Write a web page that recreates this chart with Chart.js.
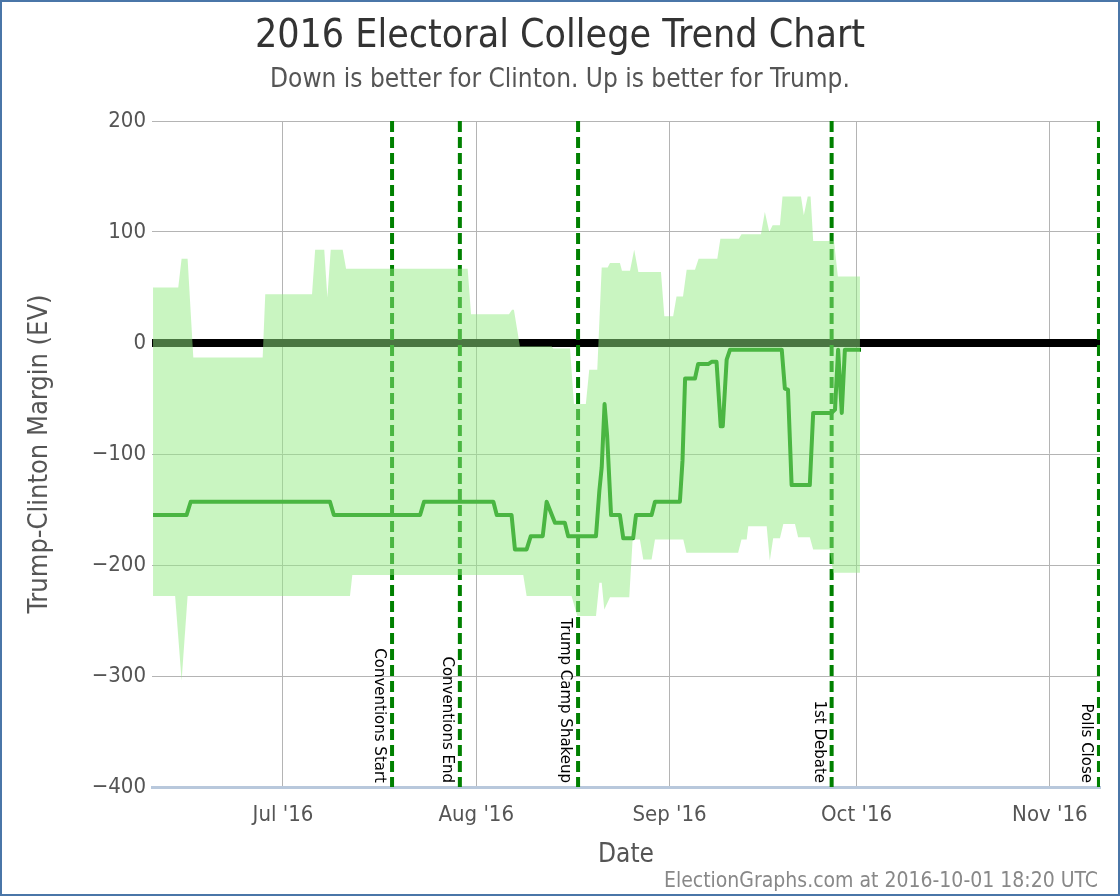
<!DOCTYPE html>
<html>
<head>
<meta charset="utf-8">
<title>2016 Electoral College Trend Chart</title>
<script src="https://cdn.jsdelivr.net/npm/chart.js@4.4.1/dist/chart.umd.min.js"></script>
<style>
  html, body { margin: 0; padding: 0; background: #fff; }
  canvas { display: block; }
</style>
</head>
<body>
<canvas id="trendChart" width="1120" height="896"></canvas>
<script>
// all dates are 2016, written 'MM-DDTHH' (UTC)
const upperDates = ['06-10T04', '06-14T05', '06-14T18', '06-15T17', '06-16T15', '06-27T18', '06-28T04', '07-05T16', '07-06T04', '07-07T15', '07-08T03', '07-08T16', '07-10T14', '07-11T03', '07-30T15', '07-31T04', '08-06T06', '08-06T18', '08-07T01', '08-08T00', '08-13T02', '08-13T08', '08-16T01', '08-16T16', '08-18T14', '08-19T03', '08-20T10', '08-21T03', '08-22T02', '08-22T11', '08-24T01', '08-24T09', '08-25T16', '08-26T08', '08-27T00', '08-30T15', '08-31T04', '09-01T14', '09-02T03', '09-03T04', '09-03T18', '09-05T02', '09-05T16', '09-08T16', '09-09T04', '09-12T03', '09-12T13', '09-15T16', '09-16T07', '09-17T00', '09-17T13', '09-18T17', '09-19T03', '09-22T02', '09-22T13', '09-23T04', '09-23T15', '09-24T01', '09-27T09', '09-28T00', '10-01T13'];
const upperValues = [50, 50, 76, 76, -13, -13, 44, 44, 84, 84, 41, 84, 84, 67, 67, 26, 26, 30, 30, -3, -3, -5, -5, -55, -55, -24, -24, 68, 68, 72, 72, 65, 65, 84, 64, 64, 24, 24, 42, 42, 66, 66, 76, 76, 94, 94, 98, 98, 118, 100, 106, 106, 132, 132, 115, 132, 132, 92, 92, 60, 60];

const lowerDates = ['06-10T04', '06-13T17', '06-14T18', '06-15T17', '07-11T18', '07-12T03', '08-08T13', '08-09T02', '08-16T07', '08-17T05', '08-20T05', '08-20T18', '08-21T03', '08-21T13', '08-22T11', '08-25T13', '08-26T02', '08-27T06', '08-27T19', '08-29T03', '08-29T16', '09-03T05', '09-03T17', '09-12T00', '09-12T13', '09-13T09', '09-13T15', '09-16T14', '09-17T02', '09-17T15', '09-18T17', '09-19T06', '09-21T03', '09-21T15', '09-23T12', '09-24T01', '09-26T17', '09-27T06', '10-01T13'];
const lowerValues = [-228, -228, -304, -228, -228, -209, -209, -228, -228, -246, -246, -216, -216, -240, -229, -229, -177, -177, -195, -195, -177, -177, -189, -189, -177, -177, -165, -165, -196, -176, -176, -163, -163, -175, -175, -186, -186, -207, -207];

const centerDates = ['06-10T04', '06-15T13', '06-16T05', '07-08T13', '07-09T04', '07-23T00', '07-23T15', '08-03T18', '08-04T07', '08-06T16', '08-07T05', '08-09T02', '08-09T18', '08-11T16', '08-12T07', '08-13T15', '08-15T05', '08-15T18', '08-20T05', '08-20T18', '08-21T03', '08-21T14', '08-22T00', '08-22T15', '08-24T01', '08-24T14', '08-26T04', '08-26T15', '08-29T03', '08-29T16', '09-02T16', '09-03T02', '09-03T12', '09-05T02', '09-05T14', '09-07T05', '09-07T18', '09-08T13', '09-09T05', '09-09T13', '09-10T04', '09-10T17', '09-19T00', '09-19T12', '09-20T00', '09-20T14', '09-23T12', '09-24T01', '09-27T00', '09-27T13', '09-28T01', '09-28T15', '09-29T03', '10-01T17'];
const centerValues = [-155, -155, -143, -143, -155, -155, -143, -143, -155, -155, -186, -186, -174, -174, -143, -162, -162, -174, -174, -133, -112, -55, -84, -155, -155, -176, -176, -155, -155, -143, -143, -106, -32, -32, -19, -19, -17, -17, -75, -75, -15, -6, -6, -41, -42, -128, -128, -63, -63, -60, -6, -63, -6, -6];

const eventNames = ['Conventions Start', 'Conventions End', 'Trump Camp Shakeup', '1st Debate', 'Polls Close'];
const eventDates = ['07-18T12', '07-29T09', '08-17T08', '09-27T00', '11-08T21'];

const monthTicks = ['07-01T00', '08-01T00', '09-01T00', '10-01T00', '11-01T00'];
const monthLabels = ["Jul '16", "Aug '16", "Sep '16", "Oct '16", "Nov '16"];
const xRange = ['06-10T00', '11-09T01'];
const yRange = [-400, 200];

const FONT = "'Liberation Sans Narrow', 'DejaVu Sans Condensed', 'Open Sans', sans-serif";

function t(s) {
    return Date.parse('2016-' + s + ':00Z');
}

function points(dates, values) {
    return dates.map((d, i) => ({ x: t(d), y: values[i] }));
}

const eventSets = eventDates.map((d, i) => ({
    label: eventNames[i],
    data: [{ x: t(d), y: yRange[1] }, { x: t(d), y: yRange[0] }],
    borderColor: '#008000',
    borderWidth: 4,
    borderDash: [11, 5],
    pointRadius: 0,
    order: 2
}));

// rotated labels next to the event lines
const eventLabels = {
    id: 'eventLabels',
    afterDatasetsDraw(chart) {
        const { ctx, scales: { x, y } } = chart;
        ctx.save();
        ctx.font = "15px 'DejaVu Sans'";
        ctx.fillStyle = '#000';
        ctx.textAlign = 'right';
        ctx.textBaseline = 'middle';
        eventNames.forEach((name, i) => {
            const px = x.getPixelForValue(t(eventDates[i]));
            ctx.save();
            ctx.translate(px - 13, y.bottom - 4);
            ctx.rotate(Math.PI / 2);
            ctx.fillText(name, 0, 0);
            ctx.restore();
        });
        ctx.restore();
    }
};

// footer credit and outer frame
const frame = {
    id: 'frame',
    afterDraw(chart) {
        const { ctx, width, height } = chart;
        ctx.save();
        ctx.font = '21px ' + FONT;
        ctx.fillStyle = '#888';
        ctx.textAlign = 'right';
        ctx.textBaseline = 'alphabetic';
        ctx.fillText('ElectionGraphs.com at 2016-10-01 18:20 UTC', width - 22, height - 9);
        ctx.strokeStyle = '#4a76a8';
        ctx.lineWidth = 2;
        ctx.strokeRect(1, 1, width - 2, height - 2);
        ctx.restore();
    }
};

new Chart(document.getElementById('trendChart'), {
    type: 'line',
    data: {
        datasets: [
            {
                label: 'Upper',
                data: points(upperDates, upperValues),
                borderWidth: 0,
                pointRadius: 0,
                backgroundColor: 'rgba(147, 235, 131, 0.5)',
                fill: { target: 1 },
                order: 0
            },
            {
                label: 'Lower',
                data: points(lowerDates, lowerValues),
                borderWidth: 0,
                pointRadius: 0,
                fill: false,
                order: 0
            },
            {
                label: 'Center',
                data: points(centerDates, centerValues),
                borderColor: '#008000',
                borderWidth: 4,
                borderJoinStyle: 'round',
                pointRadius: 0,
                order: 1
            },
            ...eventSets,
            {
                label: 'Zero',
                data: [{ x: t(xRange[0]), y: 0 }, { x: t(xRange[1]), y: 0 }],
                borderColor: '#000',
                borderWidth: 8,
                pointRadius: 0,
                order: 3
            }
        ]
    },
    options: {
        responsive: false,
        animation: false,
        devicePixelRatio: 1,
        layout: { padding: 0 },
        elements: { line: { tension: 0 } },
        plugins: {
            legend: { display: false },
            tooltip: { enabled: false },
            title: {
                display: true,
                text: '2016 Electoral College Trend Chart',
                color: '#333',
                font: { family: FONT, size: 39, weight: 'normal' },
                padding: { top: 13, bottom: 0 }
            },
            subtitle: {
                display: true,
                text: 'Down is better for Clinton. Up is better for Trump.',
                color: '#555',
                font: { family: FONT, size: 26 },
                padding: { top: 5, bottom: 25 }
            }
        },
        scales: {
            x: {
                type: 'linear',
                min: t(xRange[0]),
                max: t(xRange[1]),
                afterBuildTicks: scale => {
                    scale.ticks = monthTicks.map(m => ({ value: t(m) }));
                },
                afterFit: scale => { scale.height = 109; },
                ticks: {
                    autoSkip: false,
                    maxRotation: 0,
                    padding: 15,
                    color: '#555',
                    font: { family: FONT, size: 22 },
                    callback: (v, i) => monthLabels[i]
                },
                grid: { color: '#b4b4b4', drawTicks: false },
                border: { color: '#b8c8dc', width: 3 },
                title: {
                    display: true,
                    text: 'Date',
                    color: '#555',
                    font: { family: FONT, size: 26 },
                    padding: { top: 6, bottom: 25 }
                }
            },
            y: {
                min: yRange[0],
                max: yRange[1],
                afterFit: scale => { scale.width = 152; },
                ticks: {
                    stepSize: 100,
                    padding: 6,
                    color: '#555',
                    font: { family: FONT, size: 22 },
                    callback: v => String(v).replace('-', '\u2212')
                },
                grid: { color: '#b4b4b4', drawTicks: false },
                border: { display: false },
                title: {
                    display: true,
                    text: 'Trump-Clinton Margin (EV)',
                    color: '#555',
                    font: { family: FONT, size: 27 },
                    padding: { top: 24 }
                }
            },
            // empty right-hand margin so the titles stay centred on the page
            margin: {
                position: 'right',
                min: yRange[0],
                max: yRange[1],
                afterFit: scale => { scale.width = 20; },
                ticks: { display: false },
                grid: { display: false, drawTicks: false },
                border: { display: false }
            }
        }
    },
    plugins: [eventLabels, frame]
});
</script>
</body>
</html>
